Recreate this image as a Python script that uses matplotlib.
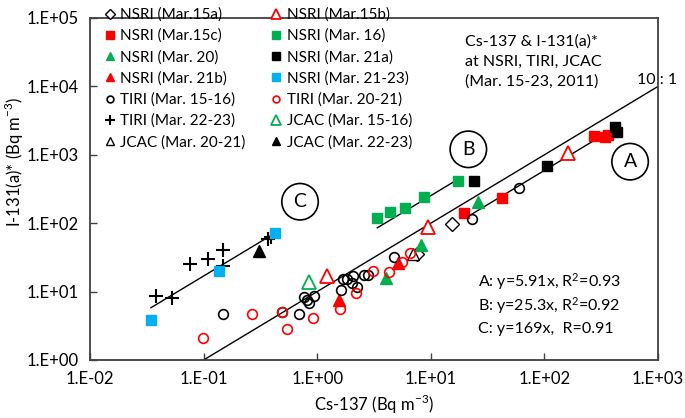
import numpy as np
import matplotlib
matplotlib.use("Agg")
import matplotlib.pyplot as plt

plt.rcParams['font.family'] = ['Lato', 'DejaVu Sans']
plt.rcParams['mathtext.fontset'] = 'custom'
plt.rcParams['mathtext.rm'] = 'Lato'

# Cs-137 (x) and I-131(a)* (y), Bq m-3
nsri_15a_x = [15.5, 7.5]
nsri_15a_y = [97, 35.5]
nsri_15b_x = [9.5, 162, 1.21]
nsri_15b_y = [89, 1050, 17.1]
nsri_15c_x = [19.7, 42.1, 275, 341, 365]
nsri_15c_y = [140, 236, 1900, 1840, 1950]
nsri_16_x = [3.38, 4.38, 5.93, 8.71, 17.5]
nsri_16_y = [118, 144, 165, 239, 414]
nsri_20_x = [25.9, 8.15, 4.01]
nsri_20_y = [206, 48, 15.6]
nsri_21a_x = [24.0, 105, 418, 433]
nsri_21a_y = [418, 693, 2580, 2130]
nsri_21b_x = [1.55, 5.18]
nsri_21b_y = [7.5, 25.9]
nsri_2123_x = [0.0344, 0.137, 0.426]
nsri_2123_y = [3.84, 20.2, 71]
tiri_1516_x = [0.149, 0.487, 0.692, 0.766, 0.818, 0.847, 0.943, 1.61, 1.68, 1.82,
               2.08, 2.02, 2.23, 2.60, 2.82, 4.78, 22.9, 60.1]
tiri_1516_y = [4.66, 5.08, 4.70, 8.42, 7.54, 6.75, 8.71, 10.5, 15.1, 15.1,
               16.9, 13.2, 11.8, 17.5, 17.5, 32.4, 115, 324]
tiri_2021_x = [0.0994, 0.269, 0.487, 0.540, 0.924, 1.59, 2.20, 3.08, 4.32, 5.55, 6.56]
tiri_2021_y = [2.10, 4.78, 5.08, 2.87, 4.18, 5.57, 9.63, 19.7, 19.2, 27.4, 36.7]
tiri_2223_x = [0.0381, 0.0530, 0.0763, 0.1087, 0.149, 0.149, 0.371, 0.392]
tiri_2223_y = [8.62, 8.15, 25.3, 30.3, 41.0, 23.7, 59.3, 63.5]
jcac_1516_x = [0.852]
jcac_1516_y = [13.9]
jcac_2021_x = [6.97]
jcac_2021_y = [36]
jcac_2223_x = [0.308]
jcac_2223_y = [39.6]

# regression lines: slope, x range
fit_a = (5.91, 20, 420)
fit_b = (25.3, 3.38, 17.5)
fit_c = (169, 0.0344, 0.426)

RED = '#FF0000'
GREEN = '#00B050'
CYAN = '#00B0F0'

fig = plt.figure(figsize=(6.85, 4.18), dpi=100)
ax = fig.add_axes([90/685, 58/418, 568/685, 342/418])
ax.set_xscale('log')
ax.set_yscale('log')
ax.set_xlim(1e-2, 1e3)
ax.set_ylim(1, 1e5)

# 10:1 line and fits
xx = np.array([0.1, 1000])
ax.plot(xx, 10*xx, color='black', lw=1.0)
for k, x0, x1 in [fit_a, fit_b, fit_c]:
    xx = np.array([x0, x1])
    ax.plot(xx, k*xx, color='black', lw=1.0)

series = [
    (nsri_15a_x, nsri_15a_y, 'NSRI (Mar.15a)', dict(marker='D', ms=7, mfc='white', mec='black', mew=1.0)),
    (nsri_15c_x, nsri_15c_y, 'NSRI (Mar.15c)', dict(marker='s', ms=7.5, mfc=RED, mec=RED)),
    (nsri_20_x, nsri_20_y, 'NSRI (Mar. 20)', dict(marker='^', ms=9, mfc=GREEN, mec=GREEN)),
    (nsri_21b_x, nsri_21b_y, 'NSRI (Mar. 21b)', dict(marker='^', ms=9, mfc=RED, mec=RED)),
    (tiri_1516_x, tiri_1516_y, 'TIRI (Mar. 15-16)', dict(marker='o', ms=7, mfc='none', mec='black', mew=1.2)),
    (tiri_2223_x, tiri_2223_y, 'TIRI (Mar. 22-23)', dict(marker='+', ms=10, mec='black', mew=1.5)),
    (jcac_2021_x, jcac_2021_y, 'JCAC (Mar. 20-21)', dict(marker='^', ms=9, mfc='white', mec='black', mew=1.0)),
    (nsri_15b_x, nsri_15b_y, 'NSRI (Mar.15b)', dict(marker='^', ms=10, mfc='white', mec=RED, mew=1.3)),
    (nsri_16_x, nsri_16_y, 'NSRI (Mar. 16)', dict(marker='s', ms=7.5, mfc=GREEN, mec=GREEN)),
    (nsri_21a_x, nsri_21a_y, 'NSRI (Mar. 21a)', dict(marker='s', ms=7.5, mfc='black', mec='black')),
    (nsri_2123_x, nsri_2123_y, 'NSRI (Mar. 21-23)', dict(marker='s', ms=7.5, mfc=CYAN, mec=CYAN)),
    (tiri_2021_x, tiri_2021_y, 'TIRI (Mar. 20-21)', dict(marker='o', ms=7, mfc='none', mec=RED, mew=1.2)),
    (jcac_1516_x, jcac_1516_y, 'JCAC (Mar. 15-16)', dict(marker='^', ms=10, mfc='white', mec=GREEN, mew=1.3)),
    (jcac_2223_x, jcac_2223_y, 'JCAC (Mar. 22-23)', dict(marker='^', ms=9, mfc='black', mec='black')),
]
for x, y, lab, st in series:
    ax.plot(x, y, ls='none', label=lab, **st)

leg = fig.legend(loc='upper left', bbox_to_anchor=(96/685, 1.0), ncol=2, frameon=False,
                 fontsize=11, markerscale=0.7, handlelength=0.8, handletextpad=0.3,
                 columnspacing=1.6, labelspacing=0.45, borderpad=0.0)

# circled labels
for lab, x, y in [('A', 568, 793), ('B', 21.4, 1203), ('C', 0.706, 206)]:
    ax.text(x, y, lab, fontsize=14, ha='center', va='center',
            bbox=dict(boxstyle='circle,pad=0.5', fc='none', ec='black', lw=1.2))

tr = ax.transAxes
for i, s in enumerate(['Cs-137 & I-131(a)*', 'at NSRI, TIRI, JCAC', '(Mar. 15-23, 2011)']):
    ax.text(0.660, 0.930 - i*0.0585, s, transform=tr, fontsize=11.5, va='center')
ax.text(0.963, 0.819, '10 : 1', transform=tr, fontsize=11.5, va='center', clip_on=False)
eqs = ['A: y=5.91x, R$\\mathregular{^2}$=0.93', 'B: y=25.3x, R$\\mathregular{^2}$=0.92', 'C: y=169x,  R=0.91']
for i, s in enumerate(eqs):
    ax.text(0.683, 0.228 - i*0.0687, s, transform=tr, fontsize=11.5, va='center')

ax.set_xticks([1e-2, 1e-1, 1, 10, 100, 1000])
ax.set_xticklabels(['1.E-02', '1.E-01', '1.E+00', '1.E+01', '1.E+02', '1.E+03'])
ax.set_yticks([1, 10, 100, 1e3, 1e4, 1e5])
ax.set_yticklabels(['1.E+00', '1.E+01', '1.E+02', '1.E+03', '1.E+04', '1.E+05'])
ax.minorticks_off()
ax.tick_params(direction='in', length=5, width=1.0, labelsize=12, colors='#404040', labelcolor='black', pad=8)
for sp in ax.spines.values():
    sp.set_color('#404040')
    sp.set_linewidth(1.3)

ax.set_xlabel('Cs-137 (Bq m$^{\\mathregular{-3}}$)', fontsize=12, labelpad=4)
fig.text(14/685, 1 - 162/418, 'I-131(a)* (Bq m$^{\\mathregular{-3}}$)', rotation=90,
         fontsize=12, ha='center', va='center')

fig.savefig('out.png', dpi=100)
